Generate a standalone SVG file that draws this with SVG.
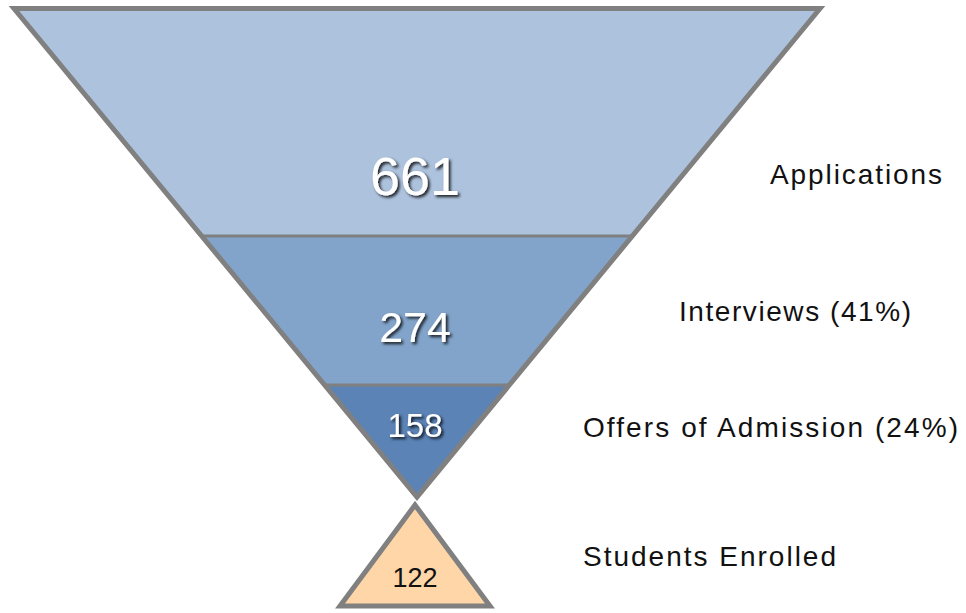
<svg xmlns="http://www.w3.org/2000/svg" width="966" height="613" viewBox="0 0 966 613">
<style>
.num{font-family:"Liberation Sans",Arial,sans-serif;fill:#fff;text-anchor:middle;filter:url(#sh)}
.lbl{font-family:"Liberation Sans",Arial,sans-serif;font-size:28px;fill:#111}
.edge{stroke:#808080;stroke-width:5;stroke-linejoin:miter;stroke-miterlimit:10}
.div{stroke:#808080;stroke-width:3}
</style>
<defs>
<filter id="sh" x="-20%" y="-20%" width="140%" height="150%">
<feDropShadow dx="2" dy="2" stdDeviation="1.5" flood-color="#000" flood-opacity="0.85"/>
</filter>
</defs>
<rect width="966" height="613" fill="#fff"/>
<g id="applications">
<polygon points="14,8.5 820,8.5 632,236 202,236" fill="#adc2dd"/>
<text class="num" x="415" y="195" font-size="54">661</text>
<text class="lbl" x="770" y="184" textLength="172" lengthAdjust="spacing">Applications</text>
</g>
<g id="interviews">
<polygon points="202,236 632,236 509,385 325,385" fill="#82a4ca"/>
<text class="num" x="415" y="342" font-size="43">274</text>
<text class="lbl" x="679" y="321" textLength="232" lengthAdjust="spacing">Interviews (41%)</text>
</g>
<g id="offers">
<polygon points="325,385 509,385 417,497" fill="#5b83b6"/>
<text class="num" x="415" y="437" font-size="33">158</text>
<text class="lbl" x="583" y="437" textLength="375" lengthAdjust="spacing">Offers of Admission (24%)</text>
</g>
<g id="enrolled">
<polygon class="edge" points="415,505 490,606 340,606" fill="#fed6a8"/>
<text x="415" y="587" font-family="Liberation Sans, Arial, sans-serif" font-size="27" fill="#111" text-anchor="middle">122</text>
<text class="lbl" x="583" y="566" textLength="253" lengthAdjust="spacing">Students Enrolled</text>
</g>
<g id="connectors">
<line class="div" x1="202" y1="236" x2="632" y2="236"/>
<line class="div" x1="325" y1="385" x2="509" y2="385"/>
<polygon class="edge" fill="none" points="14,8.5 820,8.5 417,497"/>
</g>
</svg>
